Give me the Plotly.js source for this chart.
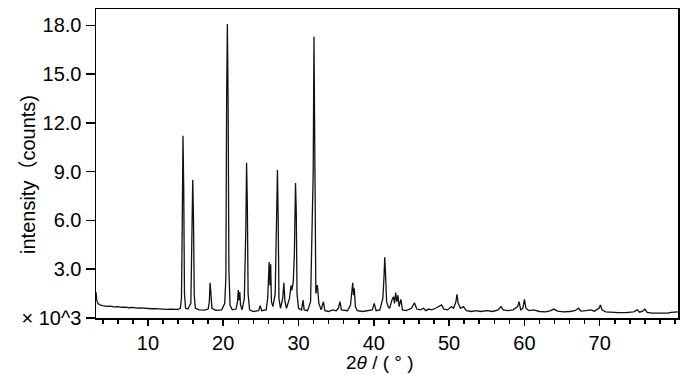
<!DOCTYPE html>
<html>
<head>
<meta charset="utf-8">
<script src="https://cdn.plot.ly/plotly-3.0.1.min.js"></script>
<style>html,body{margin:0;padding:0;background:#fff;}#chart{width:700px;height:375px;}</style>
</head>
<body>
<div id="chart"></div>
<script>
const twoTheta = [
  3.1, 3.2, 3.35, 3.6, 4.0, 4.5, 5.0, 5.5, 6.0, 6.5, 7.0, 7.5, 8.0, 8.5, 9.0, 9.5, 10.0, 10.5, 11.0, 11.5, 12.0, 12.5, 13.0, 13.5, 14.0, 14.3,
  14.45, 14.55, 14.65, 14.75, 14.85, 15.0, 15.3, 15.7,
  15.85, 15.95, 16.05, 16.15, 16.3, 16.8, 17.5, 18.0,
  18.15, 18.25, 18.35, 18.5, 19.0, 19.8, 20.2,
  20.35, 20.45, 20.55, 20.65, 20.75, 20.9, 21.2, 21.7,
  21.9, 22.0, 22.1, 22.2, 22.3, 22.5, 22.8,
  23.0, 23.1, 23.2, 23.3, 23.5, 24.0, 24.7, 24.9, 25.1, 25.7,
  25.9, 26.0, 26.1, 26.2, 26.3, 26.4, 26.6, 26.9,
  27.05, 27.2, 27.3, 27.4, 27.6, 27.9, 28.05, 28.2, 28.4, 28.8, 29.0, 29.1, 29.3,
  29.45, 29.6, 29.7, 29.8, 30.0, 30.4, 30.6, 30.75, 31.2, 31.6,
  31.8, 31.95, 32.05, 32.15, 32.3, 32.5, 32.7, 33.0, 33.3, 33.5, 34.0, 34.5, 35.0, 35.3, 35.5, 35.7, 36.5, 36.9,
  37.1, 37.2, 37.3, 37.4, 37.55, 37.8, 38.5, 39.2, 39.8, 40.05, 40.3, 40.8, 41.2,
  41.35, 41.45, 41.55, 41.7, 41.9, 42.1, 42.4, 42.6, 42.75, 42.9, 43.05, 43.2, 43.35, 43.6, 43.8,
  44.3, 45.0, 45.4, 45.7, 46.2, 46.6, 46.9, 47.3, 47.7, 48.2, 48.7, 49.0, 49.3, 49.8, 50.3, 50.6,
  50.9, 51.05, 51.2, 51.5, 51.9, 52.3, 53.0, 53.6, 54.2, 55.0, 55.8, 56.5, 56.9, 57.2, 57.8, 58.5,
  59.1, 59.3, 59.5, 59.8, 60.0, 60.2, 60.6, 61.2, 62.0, 62.8, 63.5, 63.9, 64.4, 65.2, 66.0, 66.7,
  67.2, 67.5, 68.2, 68.8, 69.3, 69.9, 70.1, 70.3, 70.8, 71.5, 72.5, 73.5, 74.5, 75.0, 75.3, 75.7,
  76.0, 76.3, 77.0, 78.0, 79.0, 79.5, 80.4
];
const intensity = [
  1.6, 1.1, 0.9, 0.8, 0.76, 0.72, 0.73, 0.68, 0.7, 0.66, 0.67, 0.63, 0.65, 0.61, 0.62, 0.59, 0.6, 0.57, 0.58, 0.55, 0.56, 0.53, 0.55, 0.52, 0.53, 0.6,
  1.2, 5.5, 11.2, 8.0, 1.5, 0.6, 0.55, 0.9,
  4.5, 8.5, 6.0, 1.4, 0.6, 0.5, 0.48, 0.55,
  1.0, 2.17, 1.6, 0.6, 0.47, 0.5, 0.9,
  2.5, 13.5, 18.07, 13.0, 3.0, 0.8, 0.5, 0.55,
  1.0, 1.72, 1.1, 1.6, 0.8, 0.5, 1.2,
  5.5, 9.55, 7.0, 1.5, 0.5, 0.4, 0.45, 0.75, 0.45, 0.5,
  1.2, 3.0, 3.44, 2.0, 3.3, 1.0, 0.7, 1.5,
  4.5, 9.1, 6.0, 1.2, 0.6, 1.2, 2.17, 1.0, 0.6, 1.2, 2.0, 1.7, 2.2,
  4.0, 8.3, 6.5, 1.5, 0.6, 0.5, 1.1, 0.5, 0.45, 1.0,
  5.0, 9.0, 17.3, 9.0, 1.5, 2.03, 0.9, 0.5, 1.0, 0.45, 0.4, 0.5, 0.45, 0.6, 1.0, 0.5, 0.45, 0.8,
  1.8, 2.17, 1.4, 1.82, 0.7, 0.45, 0.4, 0.45, 0.5, 0.9, 0.45, 0.5, 1.2,
  2.5, 3.73, 2.8, 1.0, 0.7, 0.6, 1.1, 1.31, 0.9, 1.56, 1.0, 1.4, 0.7, 1.15, 0.5,
  0.45, 0.6, 0.94, 0.55, 0.5, 0.6, 0.45, 0.55, 0.5, 0.6, 0.7, 0.8, 0.55, 0.5, 0.7, 0.6,
  1.0, 1.45, 0.9, 0.6, 0.7, 0.45, 0.4, 0.45, 0.4, 0.45, 0.4, 0.5, 0.7, 0.5, 0.45, 0.5,
  0.7, 1.0, 0.5, 0.6, 1.15, 0.6, 0.45, 0.5, 0.4, 0.38, 0.45, 0.55, 0.42, 0.38, 0.4, 0.45,
  0.6, 0.42, 0.45, 0.5, 0.42, 0.6, 0.8, 0.5, 0.38, 0.35, 0.33, 0.33, 0.38, 0.5, 0.36, 0.42,
  0.55, 0.35, 0.3, 0.3, 0.3, 0.35, 0.38
];
const yTickVals = [0, 3, 6, 9, 12, 15, 18];
const yTickText = ['× 10^3', '3.0', '6.0', '9.0', '12.0', '15.0', '18.0'];
const xTickVals = [10, 20, 30, 40, 50, 60, 70];
const xTitle = '2<i>θ</i> / ( ° )';
const yTitle = 'intensity（counts)';

const fontFam = 'Liberation Sans, Arial, Noto Sans CJK SC, sans-serif';

Plotly.newPlot('chart', [{
  x: twoTheta, y: intensity, type: 'scatter', mode: 'lines',
  line: {color: '#111', width: 1.3}, hoverinfo: 'skip'
}], {
  width: 700, height: 375,
  margin: {l: 96, r: 22, t: 9, b: 57},
  paper_bgcolor: '#fff', plot_bgcolor: '#fff',
  showlegend: false,
  font: {family: fontFam, size: 20, color: '#000'},
  xaxis: {
    range: [3.1, 80.4], tickvals: xTickVals, ticks: 'outside', ticklen: 6, tickwidth: 1.5,
    tickcolor: '#000', showgrid: false, zeroline: false, showline: true, linewidth: 1.5,
    linecolor: '#000', mirror: true,
    minor: {dtick: 2, tick0: 0, ticks: 'outside', ticklen: 4, tickwidth: 1.5, tickcolor: '#000', showgrid: false},
    tickfont: {size: 20}
  },
  yaxis: {
    range: [0, 19], tickvals: yTickVals, ticktext: yTickText, ticks: 'outside', ticklen: 9,
    tickwidth: 1.5, tickcolor: '#000', showgrid: false, zeroline: false, showline: true,
    linewidth: 1.5, linecolor: '#000', mirror: true, tickfont: {size: 20}
  },
  annotations: [
    {text: xTitle, xref: 'paper', yref: 'paper', x: 0.488, y: -0.145, xanchor: 'center', yanchor: 'middle',
     showarrow: false, font: {size: 19}, borderpad: 0},
    {text: yTitle, xref: 'paper', yref: 'paper', x: -0.1168, y: 0.463, xanchor: 'center', yanchor: 'middle',
     textangle: -90, showarrow: false, font: {size: 20}}
  ]
}, {displayModeBar: false, staticPlot: true});
</script>
</body>
</html>
